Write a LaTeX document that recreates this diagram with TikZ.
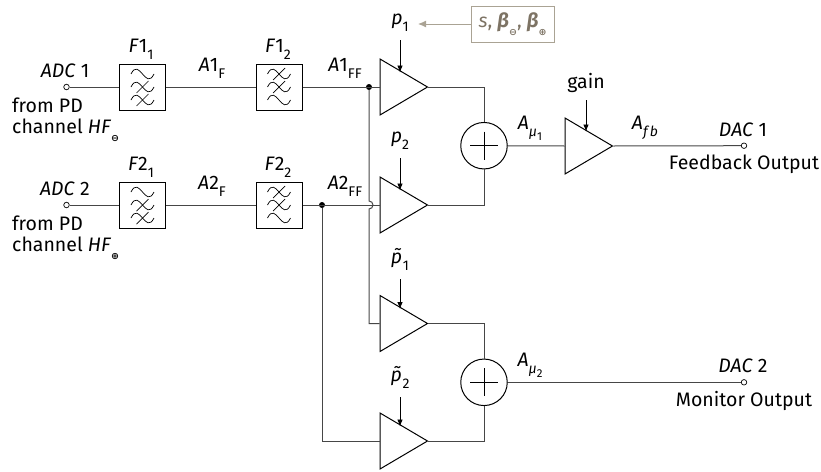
\documentclass[tikz,border=0pt]{standalone}
\usepackage{amsmath,amssymb}
\usepackage{xcolor}
\usepackage{fontspec}
\setmainfont{Fira Sans}
\newfontfamily\symfont{DejaVu Sans}
\usepackage{tikz}
\usetikzlibrary{arrows.meta,positioning,shapes.geometric,calc}
\definecolor{wire}{RGB}{70,70,70}
\definecolor{param}{RGB}{170,163,148}
\definecolor{paramtxt}{RGB}{125,115,100}
\newcommand{\sub}[1]{\raisebox{-.36em}{\fontsize{14}{14}\selectfont #1}}
\newcommand{\subb}[1]{\raisebox{-.3em}{\fontsize{11.5}{12}\selectfont #1}}
\newcommand{\subs}[1]{\raisebox{-.4em}{\fontsize{9.5}{10}\symfont\bfseries #1}}
\newcommand{\var}[1]{\textit{#1}}
\newcommand{\filtersym}[2]{%
  \foreach \k in {-13,0,13}{\draw[line width=.7pt] ($(#1)+(-11.5,\k)$) .. controls ($(#1)+(-3,\k-17)$) and ($(#1)+(3,\k+17)$) .. ($(#1)+(11.5,\k)$);}
  \foreach \k in {#2}{\draw[line width=.7pt] ($(#1)+(-6,\k+6)$) -- ($(#1)+(6,\k-6)$);}}
\tikzset{
  lbl/.style={font=\fontsize{19.5}{23}\selectfont,inner sep=0pt},
  filterbox/.style={draw,line width=1pt,minimum size=46pt,inner sep=0pt},
  amp/.style={draw,line width=1pt,isosceles triangle,isosceles triangle apex angle=61.5,isosceles triangle stretches,
    minimum width=56pt,minimum height=47.5pt,inner sep=0pt,anchor=lower side},
  sumnode/.style={draw,line width=1pt,circle,minimum size=46.5pt,inner sep=0pt},
  port/.style={draw,circle,line width=.7pt,fill=white,minimum size=5.5pt,inner sep=0pt},
  dot/.style={fill=black,circle,minimum size=6pt,inner sep=0pt},
  wireline/.style={draw=wire,line width=1pt},
  ctrl/.style={-{Latex[length=7pt,width=5.5pt]},line width=.8pt},
}
\begin{document}
\begin{tikzpicture}[x=1pt,y=-1pt]
  \useasboundingbox (0,0) rectangle (821,471);
  % inputs
  \node[port] (adc1) at (66.5,87){};
  \node[port] (adc2) at (66.5,205){};
  \node[lbl] (adc1t) at (65,71){\var{ADC} 1};
  \node[lbl] (adc2t) at (65,189){\var{ADC} 2};
  \node[lbl,anchor=west] (from1) at (12,105){from PD};
  \node[lbl,anchor=west] (chan1) at (12,130){channel \var{HF}\subs{⊖}};
  \node[lbl,anchor=west] (from2) at (12,223){from PD};
  \node[lbl,anchor=west] (chan2) at (12,248){channel \var{HF}\subs{⊕}};
  % filters
  \node[filterbox] (f11) at (142.5,87){};
  \node[filterbox] (f12) at (279,87){};
  \node[filterbox] (f21) at (142.5,205){};
  \node[filterbox] (f22) at (279,205){};
  \filtersym{f11}{0,13}
  \filtersym{f12}{-13,0}
  \filtersym{f21}{0,13}
  \filtersym{f22}{-13,0}
  \node[lbl] (f11t) at (141,49){\var{F}1\sub{1}};
  \node[lbl] (f12t) at (278,49){\var{F}1\sub{2}};
  \node[lbl] (f21t) at (141,167){\var{F}2\sub{1}};
  \node[lbl] (f22t) at (278,167){\var{F}2\sub{2}};
  \node[lbl] (a1f) at (212,68){\var{A}1\sub{F}};
  \node[lbl] (a2f) at (212,186){\var{A}2\sub{F}};
  \node[lbl] (a1ff) at (345,68){\var{A}1\sub{FF}};
  \node[lbl] (a2ff) at (345,186){\var{A}2\sub{FF}};
  % amplifiers
  \node[amp] (a1) at (379.5,87){};
  \node[amp] (a2) at (379.5,205){};
  \node[amp] (a3) at (379.5,323.5){};
  \node[amp] (a4) at (379.5,441){};
  \node[amp] (a5) at (564.5,146){};
  \node[lbl] (p1) at (400,23){\var{p}\sub{1}};
  \node[lbl] (p2) at (400,141){\var{p}\sub{2}};
  \node[lbl] (pt1) at (400,259){\var{\~p}\sub{1}};
  \node[lbl] (pt2) at (400,377){\var{\~p}\sub{2}};
  \node[lbl] (gain) at (586,83){gain};
  \coordinate (p1a) at (400,40);
  \coordinate (p2a) at (400,158);
  \coordinate (pt1a) at (400,279);
  \coordinate (pt2a) at (400,397);
  \coordinate (gaina) at (586,100);
  \foreach \s/\t in {p1a/a1,p2a/a2,pt1a/a3,pt2a/a4,gaina/a5}{\draw[ctrl] (\s) -- (\s |- \t.left side);}
  % parameters
  \node[draw=param,line width=1pt,minimum width=83pt,minimum height=36pt,inner sep=0pt,lbl,text=paramtxt] (par) at (512.5,24){\var{s}, \textbf{\textit{β}}\subs{⊖}, \textbf{\textit{β}}\subs{⊕}};
  \coordinate (para) at (418,24);
  \draw[-{Latex[length=8pt,width=7pt]},draw=param,line width=1pt] (par) -- (para);
  % summing
  \node[sumnode] (s1) at (484,145.7){};
  \node[sumnode] (s2) at (484,382.3){};
  \foreach \s in {s1,s2}{\draw[line width=.9pt] ($(\s)+(-14,0)$) -- ($(\s)+(14,0)$); \draw[line width=.9pt] ($(\s)+(0,-14)$) -- ($(\s)+(0,14)$);}
  \node[lbl] (amu1) at (530,128){\var{A}\sub{\var{μ}\subb{1}}};
  \node[lbl] (amu2) at (530,365){\var{A}\sub{\var{μ}\subb{2}}};
  \node[lbl] (afb) at (645,128){\var{A}\sub{\var{f\,b}}};
  % outputs
  \node[port] (dac1) at (744,145.7){};
  \node[port] (dac2) at (744,382.3){};
  \node[lbl] (dac1t) at (743,130){\var{DAC} 1};
  \node[lbl] (dac2t) at (743,366){\var{DAC} 2};
  \node[lbl] (fbo) at (744,164){Feedback Output};
  \node[lbl] (mon) at (744,401){Monitor Output};
  % wires
  \node[dot] (j1) at (369,87){};
  \node[dot] (j2) at (322,205){};
  \draw[wireline] (adc1) -- (f11) (f11) -- (f12) (f12) -- (a1.lower side);
  \draw[wireline] (adc2) -- (f21) (f21) -- (f22) (f22) -- (a2.lower side);
  \draw[wireline] (j1) -- ([yshift=4pt]j1 |- a2.lower side) arc[start angle=90,end angle=-90,radius=4pt] |- (a3.lower side);
  \draw[wireline] (j2) |- (a4.lower side);
  \draw[wireline] (a1.apex) -| (s1);
  \draw[wireline] (a2.apex) -| (s1);
  \draw[wireline] (a3.apex) -| (s2);
  \draw[wireline] (a4.apex) -| (s2);
  \draw[wireline] (s1) -- (a5.lower side);
  \draw[wireline] (a5.apex) -- (dac1);
  \draw[wireline] (s2) -- (dac2);
\end{tikzpicture}
\end{document}
